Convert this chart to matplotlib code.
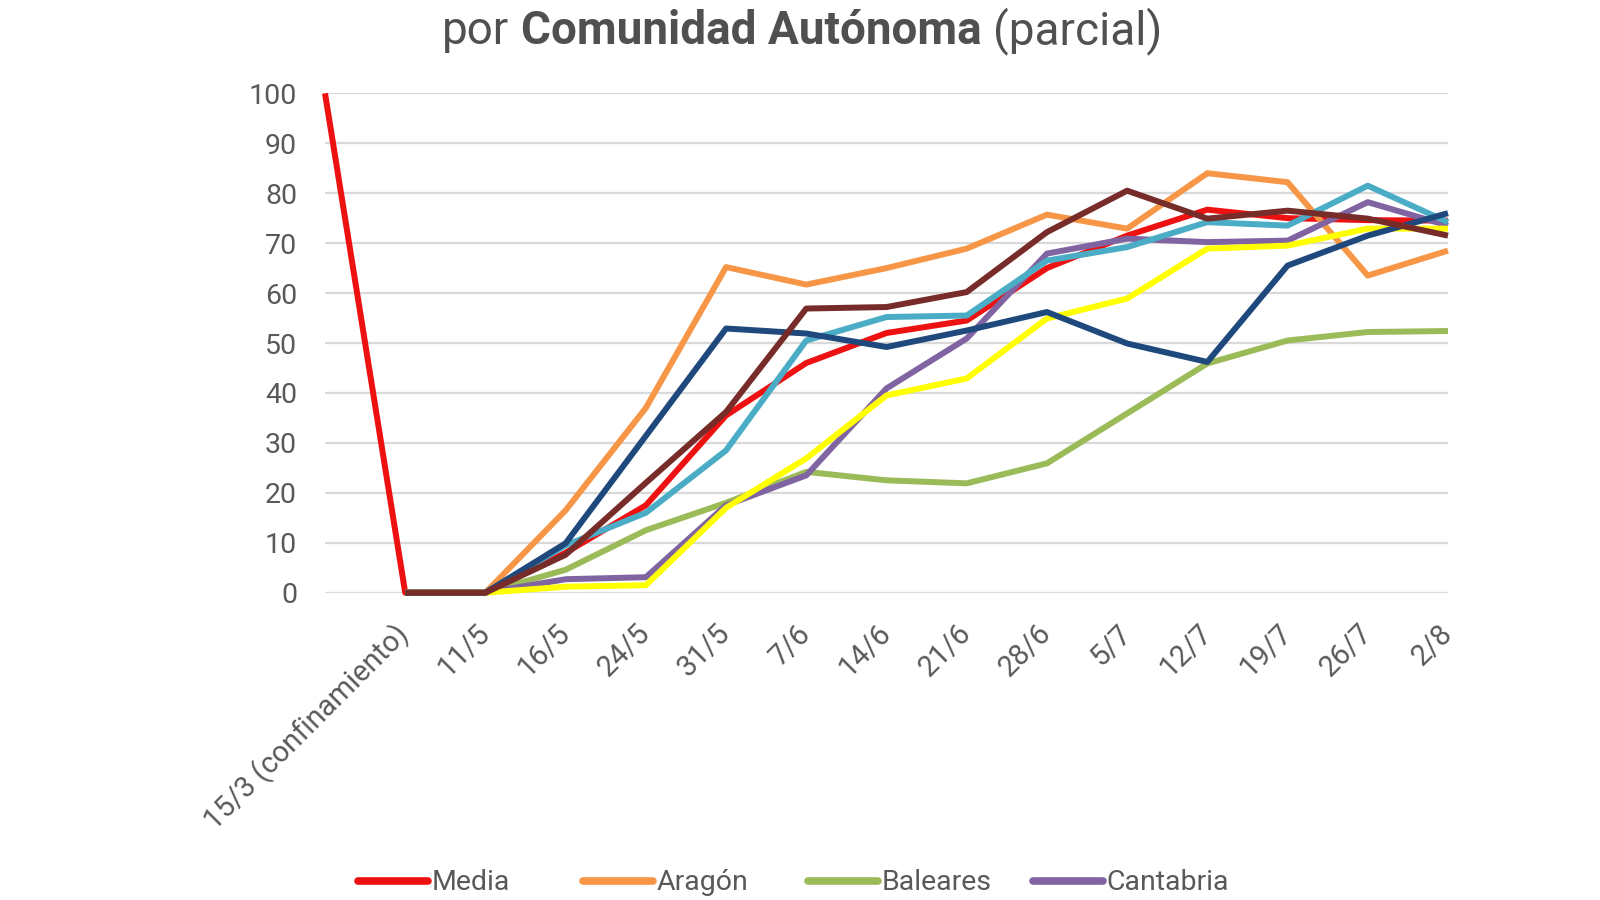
import matplotlib
matplotlib.use("Agg")
import matplotlib.pyplot as plt
from matplotlib.lines import Line2D
from matplotlib.transforms import ScaledTranslation
import numpy as np

# ---------------- data ----------------
categorias = ["", "15/3 (confinamiento)", "11/5", "16/5", "24/5", "31/5", "7/6",
              "14/6", "21/6", "28/6", "5/7", "12/7", "19/7", "26/7", "2/8"]

media     = [100, 0, 0, 8.0, 17.5, 35.5, 46.0, 52.0, 54.5, 65.0, 71.5, 76.7, 75.0, 74.6, 74.5]
aragon    = [None, 0, 0, 16.5, 37.0, 65.2, 61.7, 65.0, 68.9, 75.7, 72.9, 84.0, 82.2, 63.5, 68.5]
baleares  = [None, 0, 0, 4.6, 12.5, 18.0, 24.2, 22.5, 21.9, 25.9, 35.9, 45.9, 50.5, 52.2, 52.4]
cantabria = [None, 0, 0, 2.7, 3.1, 17.5, 23.5, 40.9, 50.9, 67.9, 70.9, 70.2, 70.5, 78.2, 73.5]
serie_azul_claro = [None, 0, 0, 9.5, 16.0, 28.5, 50.5, 55.2, 55.5, 66.5, 69.2, 74.2, 73.5, 81.5, 74.2]
serie_amarilla   = [None, 0, 0, 1.2, 1.5, 17.0, 26.9, 39.5, 42.9, 54.9, 58.9, 68.9, 69.5, 72.9, 72.9]
serie_azul_osc   = [None, 0, 0, 9.9, 31.4, 52.9, 51.9, 49.2, 52.5, 56.2, 49.9, 46.2, 65.5, 71.5, 76.0]
serie_granate    = [None, 0, 0, 7.6, 22.0, 36.2, 56.9, 57.2, 60.2, 72.2, 80.5, 74.9, 76.5, 74.9, 71.5]

series = [
    ("Media", media, "#EE1111"),
    ("Aragón", aragon, "#F79646"),
    ("Baleares", baleares, "#9BBB59"),
    ("Cantabria", cantabria, "#8064A2"),
    ("_azul_claro", serie_azul_claro, "#4BACC6"),
    ("_amarilla", serie_amarilla, "#FFFF00"),
    ("_azul_osc", serie_azul_osc, "#1F497D"),
    ("_granate", serie_granate, "#772C2A"),
]
legend_names = ["Media", "Aragón", "Baleares", "Cantabria"]

# ---------------- style ----------------
plt.rcParams["font.family"] = ["Roboto", "DejaVu Sans"]
TXT = "#595959"
GRID = "#D9D9D9"

W, H = 1600, 900
fig = plt.figure(figsize=(16, 9), dpi=100)
ax = fig.add_axes([325 / W, 1 - 592.7 / H, (1448 - 325) / W, (592.7 - 93.3) / H])

x = np.arange(len(categorias))
for name, vals, col in series:
    y = np.array([np.nan if v is None else v for v in vals], dtype=float)
    ax.plot(x, y, color=col, lw=4.3, label=name, clip_on=False,
            solid_joinstyle="round", solid_capstyle="butt", zorder=3)

ax.set_xlim(0, len(categorias) - 1)
ax.set_ylim(0, 100)
ax.set_yticks(np.arange(0, 101, 10))
ax.yaxis.grid(True, color=GRID, lw=1.6, zorder=0)
ax.set_axisbelow(True)
for s in ax.spines.values():
    s.set_visible(False)
ax.tick_params(axis="y", length=0, pad=20, labelsize=20.5, labelcolor=TXT)
ax.tick_params(axis="x", length=0, pad=19, labelsize=21, labelcolor=TXT)
ax.set_xticks(x)
ax.set_xticklabels(categorias, rotation=45, ha="right", va="top")
off = ScaledTranslation(10 / 100, 0, fig.dpi_scale_trans)
for lab in ax.get_xticklabels():
    lab.set_transform(lab.get_transform() + off)

# ---------------- title (mixed weight) ----------------
renderer = fig.canvas.get_renderer()
parts = [("por", "normal"), ("Comunidad Autónoma", "bold"), ("(parcial)", "normal")]
tsize = 33
def width_of(s, weight):
    t = fig.text(0, 0, s, fontsize=tsize, fontweight=weight)
    w = t.get_window_extent(renderer).width
    t.remove()
    return w
space = width_of("x x", "normal") - width_of("xx", "normal")
widths = [width_of(s, wt) for s, wt in parts]
total = sum(widths) + space * (len(parts) - 1)
xs = 802 - total / 2
ybase = 1 - 44 / H
for (s, wt), w in zip(parts, widths):
    fig.text(xs / W, ybase, s, fontsize=tsize, fontweight=wt, color="#505050",
             ha="left", va="baseline")
    xs += w + space

# ---------------- legend (visible row) ----------------
handles = {n: (c) for n, _, c in series}
leg_x = [358, 583, 808, 1033]
for name, lx in zip(legend_names, leg_x):
    h = Line2D([0], [0], color=handles[name], lw=5.5, solid_capstyle="round")
    leg = fig.legend([h], [name], loc="center left",
                     bbox_to_anchor=(lx / W, 1 - 883 / H), frameon=False,
                     fontsize=20.5, handlelength=2.45, handletextpad=0.12,
                     borderpad=0, borderaxespad=0)
    for t in leg.get_texts():
        t.set_color(TXT)

fig.savefig("out.png", dpi=100, facecolor="white")
